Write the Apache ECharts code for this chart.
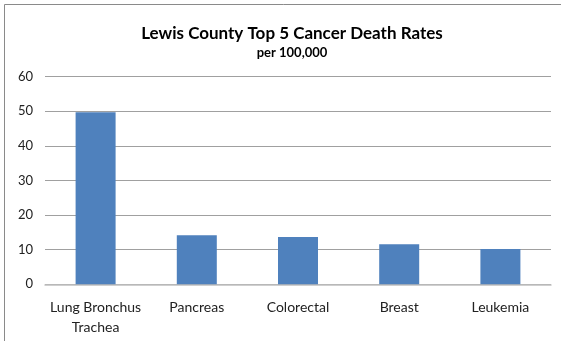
<!DOCTYPE html>
<html>
<head>
<meta charset="utf-8">
<script src="https://cdn.jsdelivr.net/npm/echarts@6/dist/echarts.min.js"></script>
<style>
  html, body { margin: 0; padding: 0; background: #fff; }
  #chart { width: 561px; height: 341px; }
</style>
</head>
<body>
<div id="chart"></div>
<script>
// Cancer death rates per 100,000 by site
const categories = ['Lung Bronchus\nTrachea', 'Pancreas', 'Colorectal', 'Breast', 'Leukemia'];
const rates = [49.7, 14.2, 13.7, 11.6, 10.2];
const yTicks = [0, 10, 20, 30, 40, 50, 60];

const FONT = 'Lato, "Open Sans", sans-serif';

const chart = echarts.init(document.getElementById('chart'), null, { renderer: 'canvas' });

chart.setOption({
  animation: false,
  backgroundColor: '#ffffff',
  title: [
    {
      text: 'Lewis County Top 5 Cancer Death Rates',
      left: 287,
      top: 20,
      textAlign: 'center',
      textStyle: { fontFamily: FONT, fontSize: 17, fontWeight: 'bold', color: '#000' }
    },
    {
      text: 'per 100,000',
      left: 287,
      top: 41,
      textAlign: 'center',
      textStyle: { fontFamily: FONT, fontSize: 13, fontWeight: 'bold', color: '#000' }
    }
  ],
  graphic: [
    {
      type: 'rect',
      silent: true,
      shape: { x: 4.5, y: 4.5, width: 700, height: 500 },
      style: { fill: 'none', stroke: '#8a8a8a', lineWidth: 1 }
    }
  ],
  grid: { left: 45, right: 10, top: 76.7, bottom: 56.7, containLabel: false },
  xAxis: {
    type: 'category',
    data: categories,
    axisLine: { show: true, lineStyle: { color: '#c0c0c0', width: 1.5 } },
    axisTick: { show: false },
    axisLabel: {
      fontFamily: FONT,
      fontSize: 14,
      color: '#222',
      margin: 13,
      lineHeight: 20,
      interval: 0
    }
  },
  yAxis: {
    type: 'value',
    min: yTicks[0],
    max: yTicks[yTicks.length - 1],
    interval: 10,
    axisLine: { show: false },
    axisTick: { show: false },
    axisLabel: { fontFamily: FONT, fontSize: 13, color: '#222', margin: 12 },
    splitLine: { show: true, lineStyle: { color: '#a0a0a0', width: 1 } }
  },
  series: [
    {
      type: 'bar',
      data: rates,
      barWidth: 40,
      itemStyle: { color: '#4f81bd' }
    }
  ]
});
</script>
</body>
</html>
